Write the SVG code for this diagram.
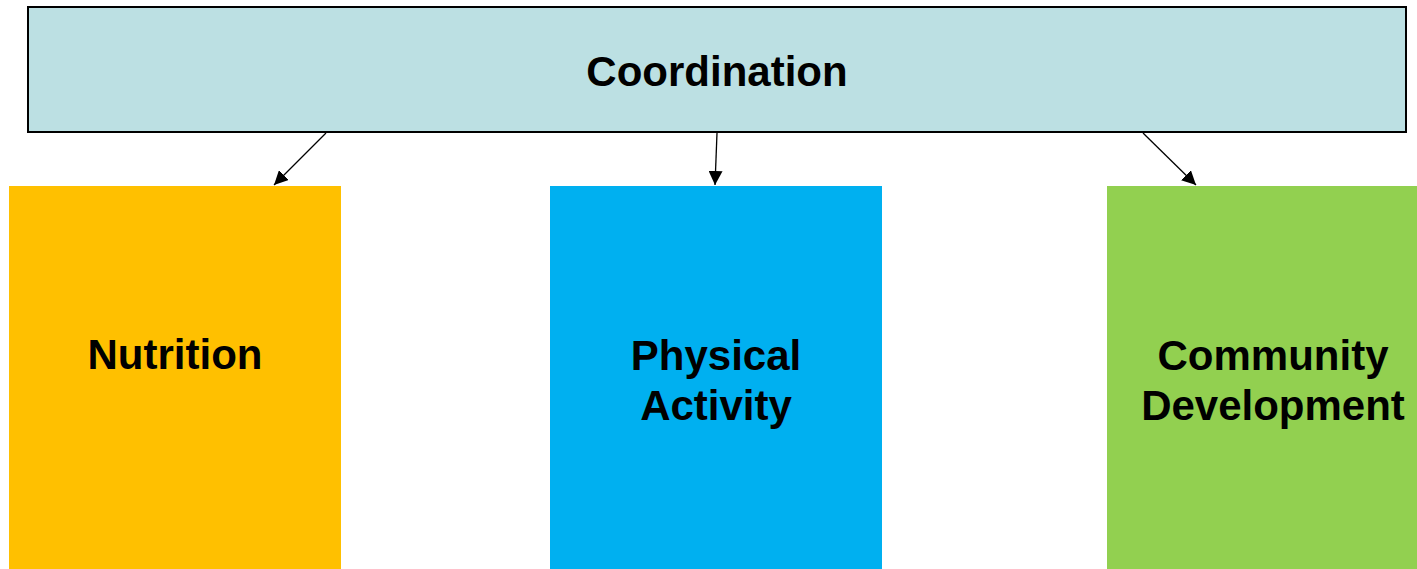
<svg xmlns="http://www.w3.org/2000/svg" width="1417" height="569" viewBox="0 0 1417 569">
<style>
.lbl{font-family:"Liberation Sans",Arial,sans-serif;font-weight:bold;font-size:42px;fill:#000;text-anchor:middle}
.conn{stroke:#000;stroke-width:1.3;fill:none;marker-end:url(#ah)}
</style>
<defs>
<marker id="ah" viewBox="0 0 10 10" refX="10" refY="5" markerWidth="14" markerHeight="14" markerUnits="userSpaceOnUse" orient="auto">
<path d="M0,0 L10,5 L0,10 Z" fill="#000"/>
</marker>
</defs>
<rect width="1417" height="569" fill="#fff"/>
<g id="coordination">
<rect x="28" y="7" width="1378" height="125" fill="#BCE0E3" stroke="#000" stroke-width="2"/>
<text class="lbl" x="717" y="86">Coordination</text>
</g>
<g id="nutrition">
<rect x="9" y="186" width="332" height="383" fill="#FFC000"/>
<text class="lbl" x="175" y="369">Nutrition</text>
</g>
<g id="physical">
<rect x="550" y="186" width="332" height="383" fill="#00B0F0"/>
<text class="lbl" x="716" y="370">Physical</text>
<text class="lbl" x="716" y="420">Activity</text>
</g>
<g id="community">
<rect x="1107" y="186" width="310" height="383" fill="#92D050"/>
<text class="lbl" x="1273" y="370">Community</text>
<text class="lbl" x="1273" y="420">Development</text>
</g>
<g id="connectors">
<line class="conn" x1="326" y1="133" x2="274" y2="185"/>
<line class="conn" x1="717" y1="133" x2="715" y2="185"/>
<line class="conn" x1="1143" y1="133" x2="1196" y2="185"/>
</g>
</svg>
